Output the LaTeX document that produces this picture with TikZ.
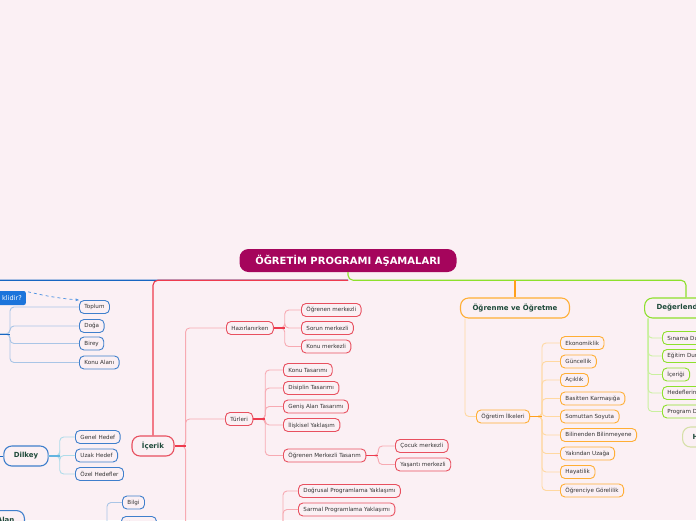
\documentclass[tikz,border=0pt]{standalone}
\usepackage{fontspec}
\setmainfont{DejaVu Sans}
\usetikzlibrary{arrows.meta,positioning}
\definecolor{bg}{HTML}{FBF0F4}
\definecolor{rootmag}{HTML}{A5055C}
\definecolor{ink}{HTML}{333333}
\definecolor{headink}{HTML}{1E4A3A}
\definecolor{blueline}{HTML}{1766C2}
\definecolor{bluebox}{HTML}{3F7FCC}
\definecolor{bluetwig}{HTML}{A9C5E6}
\definecolor{cyanstub}{HTML}{62B4E0}
\definecolor{cyantwig}{HTML}{AEDCEA}
\definecolor{notefill}{HTML}{1C74DB}
\definecolor{redline}{HTML}{EE3B4E}
\definecolor{redbox}{HTML}{E8505F}
\definecolor{redtwig}{HTML}{F7AAB2}
\definecolor{orangeline}{HTML}{FFA01C}
\definecolor{orangebox}{HTML}{FFAE35}
\definecolor{orangetwig}{HTML}{FFD8A0}
\definecolor{greenline}{HTML}{8DE02C}
\definecolor{greentwig}{HTML}{C9F09E}
\definecolor{olivebox}{HTML}{D6E0A8}

\tikzset{
  rootbox/.style={fill=rootmag,text=white,rounded corners=9pt,minimum width=217pt,
    minimum height=23pt,font=\bfseries\fontsize{10}{12}\selectfont},
  mainbox/.style={draw=#1,line width=1.1pt,rounded corners=8pt,minimum height=20pt,
    inner xsep=10pt,fill=bg,text=headink,font=\bfseries\fontsize{7}{8}\selectfont},
  leaf/.style={draw=#1,line width=0.9pt,rounded corners=4.5pt,minimum height=13pt,
    inner xsep=5pt,inner ysep=0pt,fill=bg,text=ink,anchor=west,
    font=\fontsize{5.6}{6.5}\selectfont},
  trunk/.style={draw=#1,line width=1.1pt,rounded corners=5pt},
  twig/.style={draw=#1,line width=0.9pt,rounded corners=4pt},
}

\begin{document}
\begin{tikzpicture}[x=1pt,y=-1pt]
  \path[use as bounding box] (0,0) rectangle (696,520);
  \clip (0,0) rectangle (696,520);
  \fill[bg] (0,0) rectangle (696,520);

  % root and main branches
  \node[rootbox] (root) at (348,260.5) {ÖĞRETİM PROGRAMI AŞAMALARI};
  \coordinate (hub) at ([yshift=-8pt]root.south);
  \node[mainbox=redbox] (icerik) at (153,446) {İçerik};
  \node[mainbox=orangebox,inner xsep=12pt] (ogrenme) at (515,308) {Öğrenme ve Öğretme};
  \node[mainbox=greenline,inner xsep=12pt] (deger) at (686,308) {Değerlendirme};
  \coordinate (hedefler) at (-40,300);

  \draw[trunk=blueline] (hub) -| (hedefler);
  \draw[trunk=redline] (hub) -| (icerik.north);
  \draw[trunk=greenline] (root.south) -- (hub) -| (deger.north);
  \draw[trunk=orangeline] (hub -| ogrenme.north) -- (ogrenme.north);

  % blue side (left)
  \node[fill=notefill,text=white,rounded corners=2pt,text width=50pt,align=right,
    inner xsep=4pt,minimum height=14pt,font=\fontsize{6.6}{7.5}\selectfont,anchor=east]
    (soru) at (26,298) {klidir?};
  \coordinate (kaynak) at (-30,334);
  \node[leaf=bluebox] (toplum) at (79,307) {Toplum};
  \node[leaf=bluebox] (doga) at (79,326) {Doğa};
  \node[leaf=bluebox] (birey) at (79,343.5) {Birey};
  \node[leaf=bluebox] (konualani) at (79,362.5) {Konu Alanı};
  \foreach \c in {toplum,doga,birey,konualani}
    \draw[twig=bluetwig] (kaynak) -- ++(40,0) |- (\c.west);
  \draw[line width=1pt,blueline] (kaynak) -- ++(40,0);
  \draw[dashed,line width=0.7pt,notefill!80,-{Stealth[length=3.5pt]}]
    ([xshift=2pt,yshift=-1pt]soru.north east) to[bend right=4] (toplum.north west);

  \coordinate (dilkeyust) at (-30,456);
  \node[mainbox=bluebox] (dilkey) at (26,456) {Dilkey};
  \draw[line width=1pt,blueline] (dilkeyust) -- (dilkey.west);
  \node[leaf=bluebox] (genel) at (75,437) {Genel Hedef};
  \node[leaf=bluebox] (uzak) at (75,455.5) {Uzak Hedef};
  \node[leaf=bluebox] (ozel) at (75,474) {Özel Hedefler};
  \foreach \c in {genel,uzak,ozel}
    \draw[twig=cyantwig] (dilkey.east) -- ++(11,0) |- (\c.west);
  \draw[line width=1.1pt,cyanstub] (dilkey.east) -- ++(11,0);

  \node[mainbox=bluebox,anchor=north east] (alt) at (25,510) {Bilişsel Alan};
  \coordinate (bilust) at (95,560);
  \node[leaf=bluebox] (bilgi) at (122,502.5) {Bilgi};
  \node[leaf=bluebox] (kavrama) at (121,523) {Kavrama};
  \foreach \c in {bilgi,kavrama}
    \draw[twig=bluetwig] (bilust) -- ++(12,0) |- (\c.west);

  % red side: icerik
  \node[leaf=redbox] (hazir) at (226,328) {Hazırlanırken};
  \node[leaf=redbox] (turleri) at (225,419) {Türleri};
  \coordinate (yaklasim) at (226,545);
  \foreach \c in {hazir,turleri,yaklasim}
    \draw[twig=redtwig] (icerik.east) -- ++(11,0) |- (\c.west);
  \draw[line width=1.1pt,redline] (icerik.east) -- ++(11,0);

  \node[leaf=redbox] (ogrmerk) at (301,310) {Öğrenen merkezli};
  \node[leaf=redbox] (sorun) at (301,328) {Sorun merkezli};
  \node[leaf=redbox] (konumerk) at (301,346.5) {Konu merkezli};
  \foreach \c in {ogrmerk,sorun,konumerk}
    \draw[twig=redtwig] (hazir.east) -- ++(11,0) |- (\c.west);
  \draw[line width=1.1pt,redline] (hazir.east) -- ++(11,0);

  \node[leaf=redbox] (konutas) at (283,370) {Konu Tasarımı};
  \node[leaf=redbox] (disiplin) at (283,388) {Disiplin Tasarımı};
  \node[leaf=redbox] (genis) at (283,406.5) {Geniş Alan Tasarımı};
  \node[leaf=redbox] (iliskisel) at (283,425) {İlişkisel Yaklaşım};
  \node[leaf=redbox] (ogrtas) at (283,455.5) {Öğrenen Merkezli Tasarım};
  \foreach \c in {konutas,disiplin,genis,iliskisel,ogrtas}
    \draw[twig=redtwig] (turleri.east) -- ++(12,0) |- (\c.west);
  \draw[line width=1.1pt,redline] (turleri.east) -- ++(12,0);

  \node[leaf=redbox] (cocuk) at (395,446) {Çocuk merkezli};
  \node[leaf=redbox] (yasanti) at (395,464.5) {Yaşantı merkezli};
  \foreach \c in {cocuk,yasanti}
    \draw[twig=redtwig] (ogrtas.east) -- ++(12,0) |- (\c.west);
  \draw[line width=1.1pt,redline] (ogrtas.east) -- ++(12,0);

  \node[leaf=redbox] (dogrusal) at (298,491) {Doğrusal Programlama Yaklaşımı};
  \node[leaf=redbox] (sarmal) at (298,509.5) {Sarmal Programlama Yaklaşımı};
  \foreach \c in {dogrusal,sarmal}
    \draw[twig=redtwig] (yaklasim) -- ++(57,0) |- (\c.west);

  % orange side
  \node[leaf=orangebox] (ilkeler) at (476,416.5) {Öğretim İlkeleri};
  \draw[twig=orangetwig] ([xshift=5pt]ogrenme.south west) |- (ilkeler.west);
  \foreach \c/\t/\y in {eko/Ekonomiklik/343,guncel/Güncellik/361.5,acik/Açıklık/380,
      basit/Basitten Karmaşığa/398.5,somut/Somuttan Soyuta/416.5,
      bilinen/Bilinenden Bilinmeyene/435,yakin/Yakından Uzağa/453.5,
      hayat/Hayatilik/472,gorel/Öğrenciye Görelilik/490.5}{
    \node[leaf=orangebox] (\c) at (560,\y) {\t};
    \draw[twig=orangetwig] (ilkeler.east) -- ++(12,0) |- (\c.west);
  }
  \draw[line width=1.1pt,orangeline] (ilkeler.east) -- ++(12,0);

  % green side
  \foreach \c/\t/\y in {sinama/Sınama Durumları/338,egitim/Eğitim Durumları/356,
      icerigi/İçeriği/374.5,hedef/Hedeflerin Değerlendirilmesi/393,
      program/Program Değerlendirme/411.5}{
    \node[leaf=greenline] (\c) at (662,\y) {\t};
    \draw[twig=greentwig] ([xshift=4pt]deger.south west) |- (\c.west);
  }
  \node[mainbox=olivebox,anchor=west] (hson) at (682,437) {Hedef};
\end{tikzpicture}
\end{document}
